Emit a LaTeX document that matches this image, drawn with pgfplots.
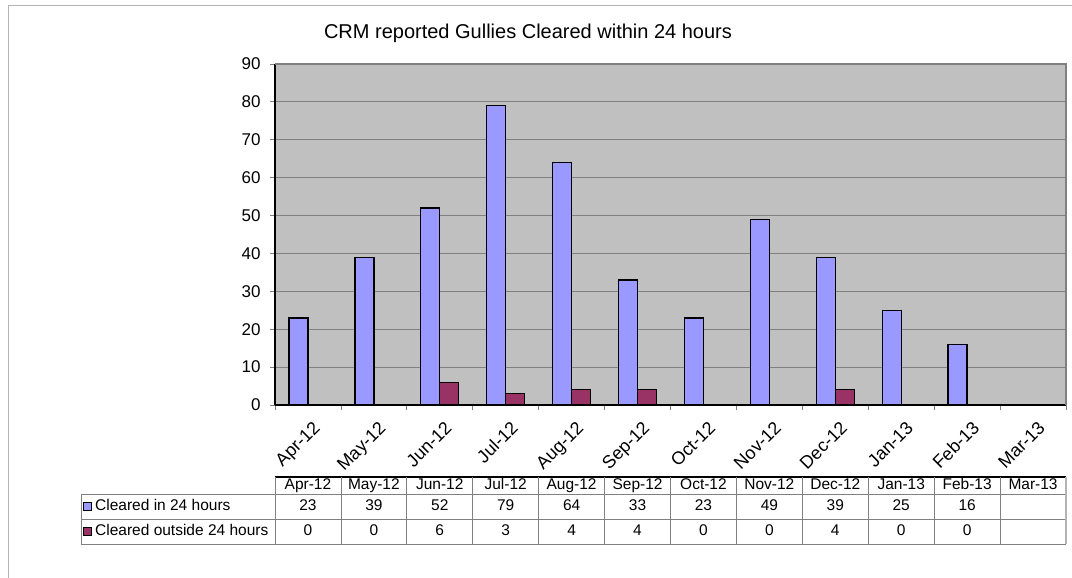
\documentclass[border=0pt]{standalone}
\usepackage{fontspec}
\setmainfont{Liberation Sans}
\usepackage{pgfplots}
\pgfplotsset{compat=1.18}
\usepackage{pgfplotstable}

\definecolor{inblue}{HTML}{9999FF}
\definecolor{outred}{HTML}{993366}
\definecolor{plotgray}{HTML}{C0C0C0}
\definecolor{gridgray}{HTML}{808080}
\definecolor{framegray}{HTML}{B4B4B4}

% month index, label, cleared in 24h, cleared outside 24h
\pgfplotstableread{
idx month in out
0 Apr-12 23 0
1 May-12 39 0
2 Jun-12 52 6
3 Jul-12 79 3
4 Aug-12 64 4
5 Sep-12 33 4
6 Oct-12 23 0
7 Nov-12 49 0
8 Dec-12 39 4
9 Jan-13 25 0
10 Feb-13 16 0
}\gullies

\newcommand{\labfont}{\fontsize{17}{20}\selectfont}
\newcommand{\xlabfont}{\fontsize{18}{21}\selectfont}
\newcommand{\cellfont}{\fontsize{15.5}{18}\selectfont}

\begin{document}
\begin{tikzpicture}[x=1pt,y=1pt,
  cell/.style={font=\cellfont, inner sep=0pt, text height=11pt, text depth=3pt}]
\useasboundingbox (0,0) rectangle (1072,578);
\draw[framegray, line width=1pt] (8,0) -- (8,572) -- (1072,572);
\node[font=\fontsize{20}{24}\selectfont] at (528,545) {CRM reported Gullies Cleared within 24 hours};

\begin{axis}[
    at={(275pt,173pt)}, anchor=south west,
    scale only axis,
    width=791pt, height=341pt,
    xmin=-0.5, xmax=11.5,
    ymin=0, ymax=90,
    ybar=0pt, bar width=19pt,
    axis background/.style={fill=plotgray},
    axis x line*=bottom, axis y line*=left,
    axis line style={black, line width=1.2pt, -},
    tick align=outside,
    major tick length=5pt,
    tick style={gridgray, line width=0.8pt},
    xtick={-0.5,0.5,...,11.5},
    xticklabels={},
    extra x ticks={0,1,...,11},
    extra x tick labels={Apr-12,May-12,Jun-12,Jul-12,Aug-12,Sep-12,Oct-12,Nov-12,Dec-12,Jan-13,Feb-13,Mar-13},
    extra x tick style={major tick length=0pt},
    xticklabel style={font=\xlabfont, xshift=4pt, yshift=-15pt, rotate=45, anchor=north east, inner sep=0pt},
    ytick={0,10,...,90},
    yticklabel style={font=\labfont, xshift=-6pt},
    /pgf/number format/assume math mode=true,
    ymajorgrids=true,
    grid style={gridgray, line width=1pt},
    clip=false,
]
\addplot[fill=inblue, draw=black, line width=1.3pt] table[x=idx, y=in] {\gullies};
\addplot[fill=outred, draw=black, line width=1.3pt] table[x=idx, y=out] {\gullies};
\draw[gridgray, line width=1.5pt] (rel axis cs:0,1) -- (rel axis cs:1,1) -- (rel axis cs:1,0);
\end{axis}

% data table below the chart
\pgfmathsetmacro{\cw}{791/12}
\draw[black, line width=1.2pt] (275,101) -- (1066,101);
\foreach \yy in {84,59,34} \draw[gridgray, line width=0.8pt] (81,\yy) -- (1066,\yy);
\draw[gridgray, line width=0.8pt] (81,34) -- (81,84);
\foreach \i in {0,...,11} \draw[gridgray, line width=0.8pt] ({275+\i*\cw},34) -- ({275+\i*\cw},101);
\draw[framegray, line width=1.5pt] (1066,34) -- (1066,101);

\foreach \i in {0,...,10} {
  \pgfplotstablegetelem{\i}{month}\of\gullies \edef\mm{\pgfplotsretval}
  \pgfplotstablegetelem{\i}{in}\of\gullies \edef\va{\pgfplotsretval}
  \pgfplotstablegetelem{\i}{out}\of\gullies \edef\vb{\pgfplotsretval}
  \node[cell] at ({275+(\i+0.5)*\cw},92.5) {\mm};
  \node[cell] at ({275+(\i+0.5)*\cw},71.5) {\va};
  \node[cell] at ({275+(\i+0.5)*\cw},46.5) {\vb};
}
\node[cell] at ({275+11.5*\cw},92.5) {Mar-13};

\draw[fill=inblue, draw=black, line width=1.2pt] (83.5,67.5) rectangle (91.5,75.5);
\draw[fill=outred, draw=black, line width=1.2pt] (83.5,42.5) rectangle (91.5,50.5);
\node[cell, anchor=west] at (95,71.5) {Cleared in 24 hours};
\node[cell, anchor=west] at (95,46.5) {Cleared outside 24 hours};
\end{tikzpicture}
\end{document}
